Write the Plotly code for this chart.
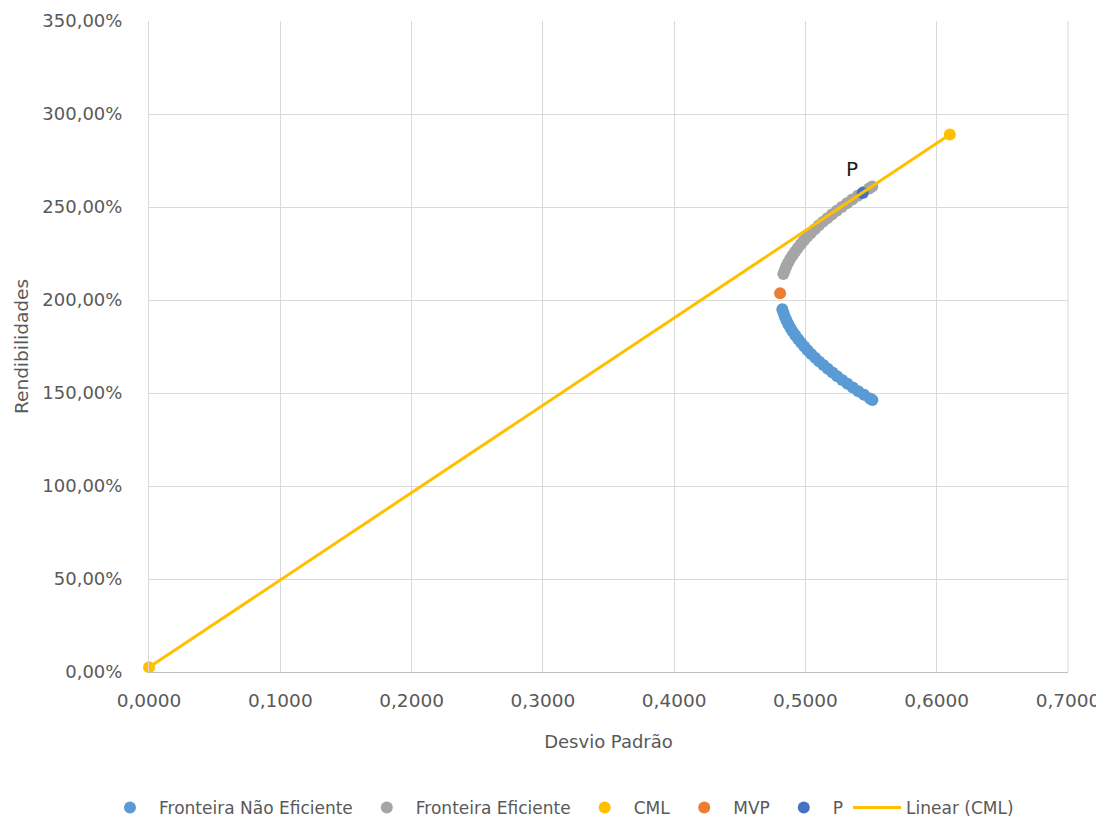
import numpy as np
import plotly.graph_objects as go

# Fronteira Não Eficiente (desvio padrão, rendibilidade)
ne_sd = [0.4824, 0.4833, 0.4843, 0.4856, 0.4870, 0.4886, 0.4903, 0.4923, 0.4944,
         0.4967, 0.4991, 0.5017, 0.5044, 0.5074, 0.5104, 0.5137, 0.5170, 0.5206,
         0.5242, 0.5280, 0.5320, 0.5361, 0.5403, 0.5446, 0.5491, 0.5510]
ne_ret = [1.95, 1.93, 1.91, 1.89, 1.87, 1.85, 1.83, 1.81, 1.79,
          1.77, 1.75, 1.73, 1.71, 1.69, 1.67, 1.65, 1.63, 1.61,
          1.59, 1.57, 1.55, 1.53, 1.51, 1.49, 1.47, 1.462]
# Fronteira Eficiente
ef_sd = [0.4832, 0.4842, 0.4854, 0.4868, 0.4884, 0.4902, 0.4921, 0.4942, 0.4964,
         0.4988, 0.5014, 0.5042, 0.5071, 0.5101, 0.5133, 0.5167, 0.5202, 0.5239,
         0.5277, 0.5316, 0.5357, 0.5399, 0.5442, 0.5486, 0.5509]
ef_ret = [2.14, 2.16, 2.18, 2.20, 2.22, 2.24, 2.26, 2.28, 2.30,
          2.32, 2.34, 2.36, 2.38, 2.40, 2.42, 2.44, 2.46, 2.48,
          2.50, 2.52, 2.54, 2.56, 2.58, 2.60, 2.61]
# CML
cml_sd = [0.0, 0.61]
cml_ret = [0.025, 2.89]
# MVP
mvp_sd = [0.4807]
mvp_ret = [2.036]
# P (carteira tangente)
p_sd = [0.5436]
p_ret = [2.575]

font_family = "DejaVu Sans, sans-serif"
tick_color = "#595959"

fig = go.Figure()
msize = 12
fig.add_trace(go.Scatter(x=ne_sd, y=ne_ret, mode="markers", name="Fronteira Não Eficiente",
                         marker=dict(color="#5B9BD5", size=msize)))
fig.add_trace(go.Scatter(x=ef_sd, y=ef_ret, mode="markers", name="Fronteira Eficiente",
                         marker=dict(color="#A5A5A5", size=msize)))
fig.add_trace(go.Scatter(x=cml_sd, y=cml_ret, mode="markers", name="CML",
                         marker=dict(color="#FFC000", size=msize), cliponaxis=False))
fig.add_trace(go.Scatter(x=mvp_sd, y=mvp_ret, mode="markers", name="MVP",
                         marker=dict(color="#ED7D31", size=msize)))
fig.add_trace(go.Scatter(x=p_sd, y=p_ret, mode="markers", name="P",
                         marker=dict(color="#4472C4", size=msize)))
# Linear trendline on CML points
coef = np.polyfit(cml_sd, cml_ret, 1)
tx = np.array([min(cml_sd), max(cml_sd)])
fig.add_trace(go.Scatter(x=tx, y=np.polyval(coef, tx), mode="lines", name="Linear (CML)",
                         line=dict(color="#FFC000", width=3), cliponaxis=False))

fig.add_annotation(x=p_sd[0], y=p_ret[0], text="P", showarrow=False,
                   xshift=-11, yshift=24, font=dict(size=20, color="#1a1a1a", family=font_family))

fig.update_layout(
    width=1104, height=821,
    margin=dict(l=141, r=44, t=13, b=157),
    paper_bgcolor="white", plot_bgcolor="white",
    separators=",.",
    font=dict(family=font_family, size=18, color=tick_color),
    showlegend=True,
    legend=dict(orientation="h", x=0.5, xref="container", xanchor="center",
                y=0.0256, yref="container", yanchor="middle", itemwidth=48,
                font=dict(size=17, color=tick_color)),
    xaxis=dict(range=[0, 0.7], dtick=0.1, tickformat=".4f", showgrid=True,
               gridcolor="#D9D9D9", gridwidth=1, showline=True, linecolor="#BFBFBF",
               zeroline=False, ticks="", ticklabelstandoff=12, automargin=False,
               tickfont=dict(size=18.5),
               title=dict(text="Desvio Padrão", font=dict(size=18, color=tick_color), standoff=25)),
    yaxis=dict(range=[0, 3.5], dtick=0.5, tickformat=".2%", showgrid=True,
               gridcolor="#D9D9D9", gridwidth=1, showline=True, linecolor="#D9D9D9",
               zeroline=False, ticks="", ticklabelstandoff=22, automargin=False,
               tickfont=dict(size=18),
               title=dict(text="Rendibilidades", font=dict(size=18.5, color=tick_color), standoff=8)),
)
fig.add_shape(type="line", xref="paper", yref="paper", x0=1, x1=1, y0=0, y1=1,
              line=dict(color="#D9D9D9", width=1))

fig.write_html("out.html")
